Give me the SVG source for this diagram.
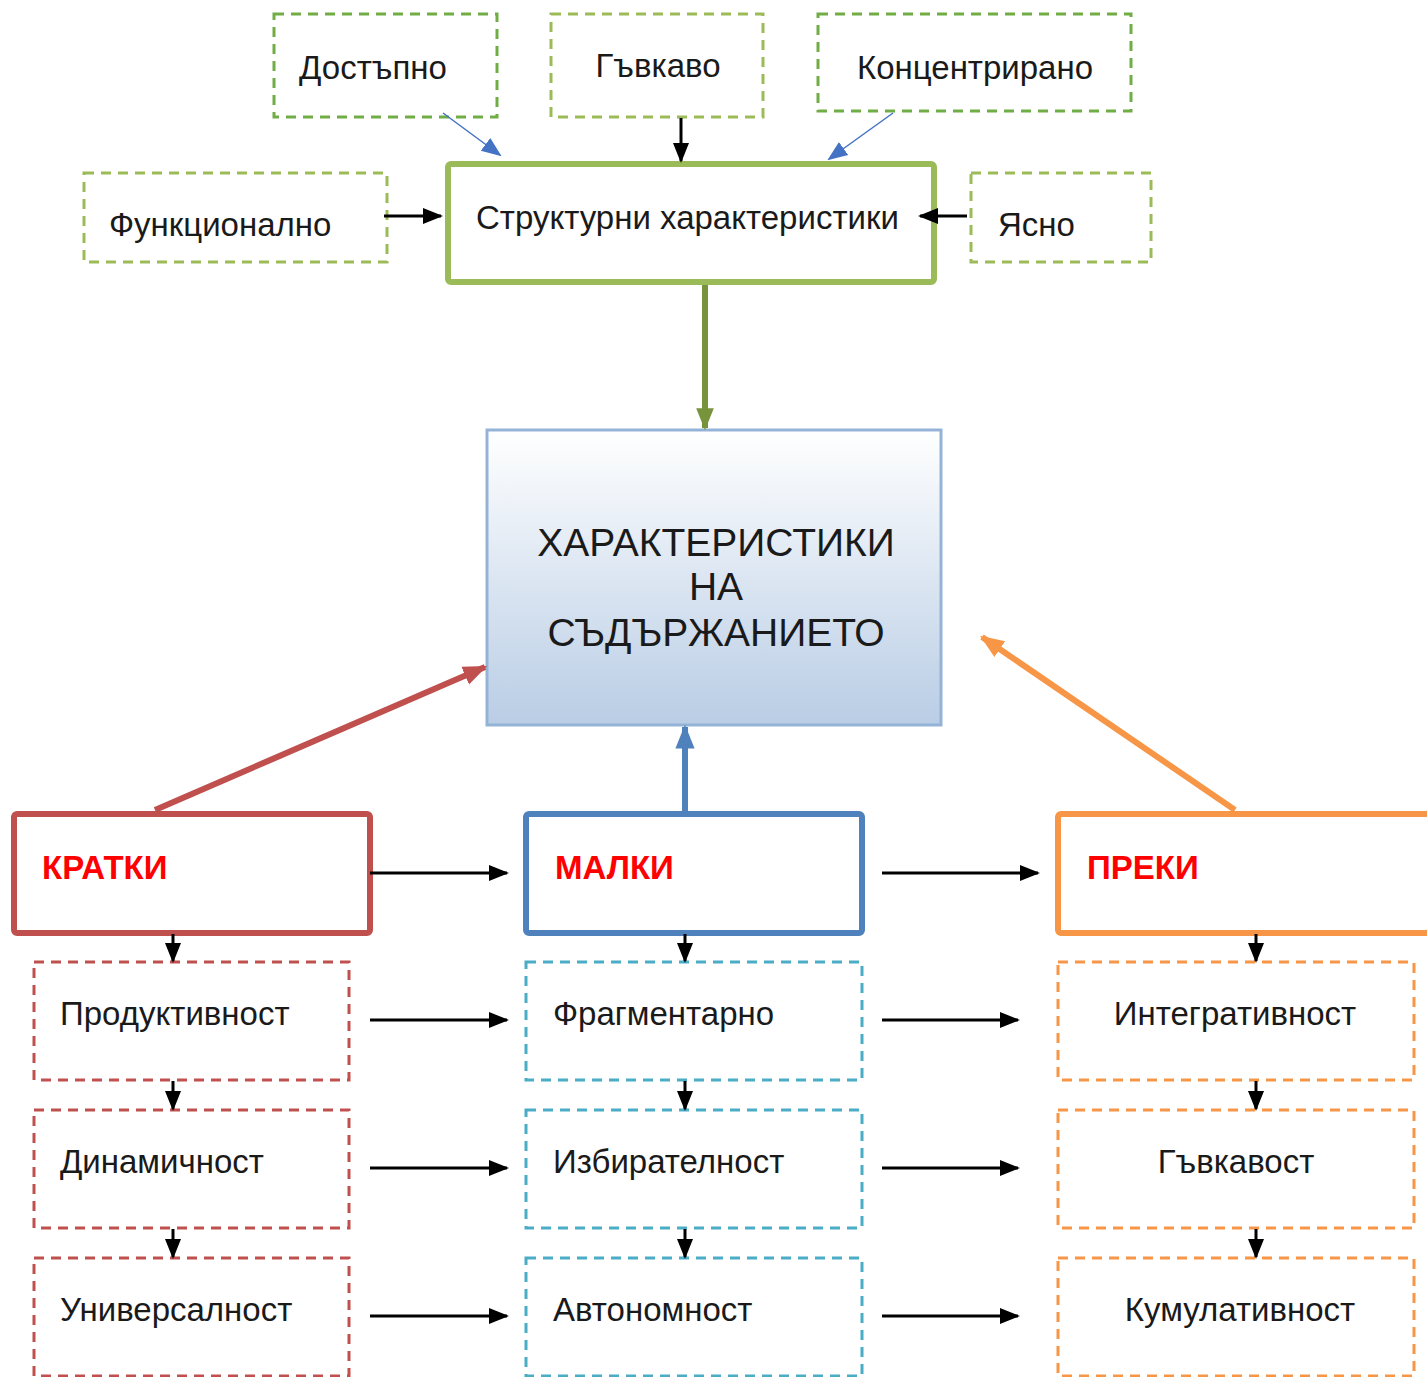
<svg xmlns="http://www.w3.org/2000/svg" width="1427" height="1377" viewBox="0 0 1427 1377">
<defs>
<linearGradient id="cg" x1="0" y1="0" x2="0" y2="1">
<stop offset="0" stop-color="#ffffff"/>
<stop offset="1" stop-color="#b9cde5"/>
</linearGradient>
<marker id="ak" viewBox="0 0 20 20" refX="18" refY="10" markerWidth="20" markerHeight="20" markerUnits="userSpaceOnUse" orient="auto"><path d="M0,2 L20,10 L0,18 Z" fill="#000"/></marker>
<marker id="ab" viewBox="0 0 20 20" refX="18" refY="10" markerWidth="20" markerHeight="20" markerUnits="userSpaceOnUse" orient="auto"><path d="M0,2 L20,10 L0,18 Z" fill="#4472c4"/></marker>
<marker id="ag" viewBox="0 0 20 20" refX="18" refY="10" markerWidth="22" markerHeight="22" markerUnits="userSpaceOnUse" orient="auto"><path d="M0,2 L20,10 L0,18 Z" fill="#77933c"/></marker>
<marker id="ar" viewBox="0 0 20 20" refX="18" refY="10" markerWidth="24" markerHeight="24" markerUnits="userSpaceOnUse" orient="auto"><path d="M0,2 L20,10 L0,18 Z" fill="#c0504d"/></marker>
<marker id="au" viewBox="0 0 20 20" refX="18" refY="10" markerWidth="24" markerHeight="24" markerUnits="userSpaceOnUse" orient="auto"><path d="M0,2 L20,10 L0,18 Z" fill="#4f81bd"/></marker>
<marker id="ao" viewBox="0 0 20 20" refX="18" refY="10" markerWidth="24" markerHeight="24" markerUnits="userSpaceOnUse" orient="auto"><path d="M0,2 L20,10 L0,18 Z" fill="#f79646"/></marker>
</defs>
<style>
text{font-family:"Liberation Sans",Arial,sans-serif;fill:#1a1a1a}
.t{font-size:33px}
.c{font-size:39px;text-anchor:middle}
.b{font-size:33px;font-weight:bold;fill:#ff0000}
.d{fill:none;stroke-width:3;stroke-dasharray:10 7}
.dg{stroke:#70ad47}
.dl{stroke:#9bbb59}
.dr{stroke:#c0504d}
.dt{stroke:#4bacc6}
.do{stroke:#f79646}
.s{fill:#fff;stroke-width:6}
.k{stroke:#000;stroke-width:3;fill:none;marker-end:url(#ak)}
.bl{stroke:#4472c4;stroke-width:1.5;fill:none;marker-end:url(#ab)}
</style>
<rect width="1427" height="1377" fill="#fff"/>

<g id="n-dostapno"><rect class="d dg" x="274" y="14" width="223" height="103"/><text class="t" x="373" y="79" text-anchor="middle">Достъпно</text></g>
<g id="n-gavkavo"><rect class="d dl" x="551" y="14" width="212" height="103"/><text class="t" x="658" y="77" text-anchor="middle">Гъвкаво</text></g>
<g id="n-koncentrirano"><rect class="d dg" x="818" y="14" width="313" height="97"/><text class="t" x="975" y="79" text-anchor="middle">Концентрирано</text></g>
<g id="n-funkcionalno"><rect class="d dl" x="84" y="173" width="303" height="89"/><text class="t" x="109" y="236">Функционално</text></g>
<g id="n-yasno"><rect class="d dl" x="971" y="173" width="180" height="89"/><text class="t" x="998" y="236">Ясно</text></g>
<g id="n-struct"><rect class="s" x="448" y="164" width="486" height="118" rx="3" stroke="#9bbb59"/><text class="t" x="476" y="229">Структурни характеристики</text></g>

<g id="n-center"><rect x="487" y="430" width="454" height="295" fill="url(#cg)" stroke="#95b3d7" stroke-width="3"/>
<text class="c" x="716" y="556">ХАРАКТЕРИСТИКИ</text><text class="c" x="716" y="600">НА</text><text class="c" x="716" y="646">СЪДЪРЖАНИЕТО</text></g>

<g id="n-kratki"><rect class="s" x="14" y="814" width="356" height="119" rx="3" stroke="#c0504d"/><text class="b" x="42" y="879">КРАТКИ</text></g>
<g id="n-malki"><rect class="s" x="526" y="814" width="336" height="119" rx="3" stroke="#4f81bd"/><text class="b" x="555" y="879">МАЛКИ</text></g>
<g id="n-preki"><rect class="s" x="1058" y="814" width="400" height="119" rx="3" stroke="#f79646"/><text class="b" x="1087" y="879">ПРЕКИ</text></g>

<g id="n-produktivnost"><rect class="d dr" x="34" y="962" width="315" height="118"/><text class="t" x="60" y="1025">Продуктивност</text></g>
<g id="n-dinamichnost"><rect class="d dr" x="34" y="1110" width="315" height="118"/><text class="t" x="60" y="1173">Динамичност</text></g>
<g id="n-universalnost"><rect class="d dr" x="34" y="1258" width="315" height="118"/><text class="t" x="60" y="1321">Универсалност</text></g>

<g id="n-fragmentarno"><rect class="d dt" x="526" y="962" width="336" height="118"/><text class="t" x="553" y="1025">Фрагментарно</text></g>
<g id="n-izbiratelnost"><rect class="d dt" x="526" y="1110" width="336" height="118"/><text class="t" x="553" y="1173">Избирателност</text></g>
<g id="n-avtonomnost"><rect class="d dt" x="526" y="1258" width="336" height="118"/><text class="t" x="553" y="1321">Автономност</text></g>

<g id="n-integrativnost"><rect class="d do" x="1058" y="962" width="356" height="118"/><text class="t" x="1235" y="1025" text-anchor="middle">Интегративност</text></g>
<g id="n-gavkavost"><rect class="d do" x="1058" y="1110" width="356" height="118"/><text class="t" x="1236" y="1173" text-anchor="middle">Гъвкавост</text></g>
<g id="n-kumulativnost"><rect class="d do" x="1058" y="1258" width="356" height="118"/><text class="t" x="1240" y="1321" text-anchor="middle">Кумулативност</text></g>

<g id="connectors">
<line class="bl" x1="443" y1="113" x2="500" y2="155"/>
<line class="k" x1="681" y1="118" x2="681" y2="161"/>
<line class="bl" x1="893" y1="113" x2="829" y2="159"/>
<line class="k" x1="384" y1="216" x2="441" y2="216"/>
<line class="k" x1="967" y1="216" x2="920" y2="216"/>
<line x1="705" y1="285" x2="705" y2="428" stroke="#77933c" stroke-width="6" marker-end="url(#ag)"/>
<line x1="155" y1="810" x2="485" y2="667" stroke="#c0504d" stroke-width="6" marker-end="url(#ar)"/>
<line x1="685" y1="811" x2="685" y2="727" stroke="#4f81bd" stroke-width="6" marker-end="url(#au)"/>
<line x1="1235" y1="810" x2="982" y2="637" stroke="#f79646" stroke-width="6" marker-end="url(#ao)"/>
<line class="k" x1="370" y1="873" x2="507" y2="873"/>
<line class="k" x1="882" y1="873" x2="1038" y2="873"/>
<line class="k" x1="173" y1="934" x2="173" y2="961"/>
<line class="k" x1="685" y1="934" x2="685" y2="961"/>
<line class="k" x1="1256" y1="934" x2="1256" y2="961"/>
<line class="k" x1="173" y1="1081" x2="173" y2="1109"/>
<line class="k" x1="173" y1="1229" x2="173" y2="1257"/>
<line class="k" x1="685" y1="1081" x2="685" y2="1109"/>
<line class="k" x1="685" y1="1229" x2="685" y2="1257"/>
<line class="k" x1="1256" y1="1081" x2="1256" y2="1109"/>
<line class="k" x1="1256" y1="1229" x2="1256" y2="1257"/>
<line class="k" x1="370" y1="1020" x2="507" y2="1020"/>
<line class="k" x1="370" y1="1168" x2="507" y2="1168"/>
<line class="k" x1="370" y1="1316" x2="507" y2="1316"/>
<line class="k" x1="882" y1="1020" x2="1018" y2="1020"/>
<line class="k" x1="882" y1="1168" x2="1018" y2="1168"/>
<line class="k" x1="882" y1="1316" x2="1018" y2="1316"/>
</g>
</svg>
